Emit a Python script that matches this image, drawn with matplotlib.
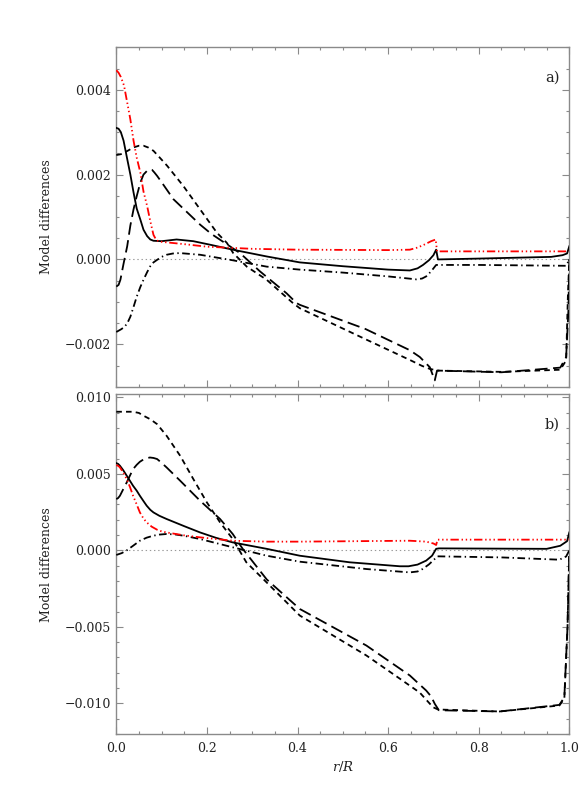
import matplotlib
matplotlib.use("Agg")
import matplotlib.pyplot as plt
from matplotlib.ticker import MultipleLocator, FuncFormatter

plt.rcParams['font.family'] = ['DejaVu Serif']
plt.rcParams['lines.scale_dashes'] = False
plt.rcParams['mathtext.fontset'] = 'dejavuserif'

# ---------------- Panel a data ----------------
a_solid_x = [0, 0.005, 0.01, 0.016, 0.024, 0.031, 0.038, 0.045, 0.053, 0.06, 0.068, 0.075, 0.082, 0.1, 0.133, 0.17, 0.21, 0.257, 0.332, 0.405, 0.5, 0.6, 0.648, 0.665, 0.677, 0.69, 0.7, 0.706, 0.71, 0.8, 0.96, 0.985, 0.995, 1.0]
a_solid_y = [0.0031, 0.00308, 0.003, 0.0028, 0.00237, 0.002, 0.00158, 0.0012, 0.00094, 0.0007, 0.00055, 0.00047, 0.00044, 0.00043, 0.00047, 0.00043, 0.00034, 0.00023, 0.00007, -0.00007, -0.00016, -0.00024, -0.00026, -0.00021, -0.00013, -0.00002, 0.0001, 0.00023, 0.0, 0.00002, 0.00006, 0.0001, 0.00014, 0.00031]

a_red_x = [0, 0.005, 0.01, 0.017, 0.024, 0.031, 0.038, 0.045, 0.053, 0.06, 0.068, 0.075, 0.082, 0.088, 0.095, 0.15, 0.2, 0.3, 0.4, 0.6, 0.648, 0.665, 0.68, 0.695, 0.705, 0.708, 0.8, 1.0]
a_red_y = [0.00446, 0.0044, 0.0043, 0.0041, 0.0037, 0.0033, 0.0028, 0.0024, 0.00205, 0.0016, 0.00126, 0.0009, 0.00058, 0.00046, 0.00042, 0.00036, 0.0003, 0.00025, 0.00023, 0.00022, 0.00023, 0.00028, 0.00035, 0.00043, 0.00047, 0.00019, 0.00019, 0.00019]

a_dashdot_x = [0, 0.01, 0.017, 0.024, 0.031, 0.038, 0.045, 0.053, 0.06, 0.068, 0.075, 0.082, 0.09, 0.1, 0.111, 0.125, 0.14, 0.185, 0.257, 0.332, 0.405, 0.5, 0.6, 0.645, 0.662, 0.675, 0.684, 0.695, 0.706, 0.8, 0.993, 1.0]
a_dashdot_y = [-0.00171, -0.00165, -0.0016, -0.00151, -0.00135, -0.00112, -0.00088, -0.00065, -0.00048, -0.0003, -0.00016, -0.00007, -0.00001, 0.00006, 0.00011, 0.00014, 0.00015, 0.00011, -0.00002, -0.00017, -0.00024, -0.00031, -0.0004, -0.00045, -0.00047, -0.00045, -0.0004, -0.00028, -0.00013, -0.00013, -0.00015, 0.0]

a_short_x = [0, 0.01, 0.025, 0.038, 0.05, 0.06, 0.07, 0.082, 0.095, 0.112, 0.148, 0.185, 0.222, 0.244, 0.258, 0.288, 0.332, 0.39, 0.405, 0.55, 0.65, 0.675, 0.692, 0.71, 0.85, 0.98, 0.993, 0.997, 1.0]
a_short_y = [0.00246, 0.00248, 0.00256, 0.00264, 0.00268, 0.00268, 0.00264, 0.00256, 0.00241, 0.00221, 0.00173, 0.00118, 0.00063, 0.00039, 0.00015, -0.00017, -0.00048, -0.00103, -0.00115, -0.00188, -0.00238, -0.00251, -0.00258, -0.00262, -0.00265, -0.0026, -0.00238, -0.0008, 0.0]

a_long_x = [0, 0.005, 0.009, 0.016, 0.024, 0.031, 0.038, 0.045, 0.053, 0.06, 0.068, 0.074, 0.079, 0.084, 0.09, 0.1, 0.126, 0.185, 0.21, 0.273, 0.317, 0.376, 0.398, 0.405, 0.55, 0.648, 0.67, 0.692, 0.703, 0.708, 0.85, 0.98, 0.993, 0.998, 1.0]
a_long_y = [-0.00064, -0.0006, -0.00048, -0.0001, 0.00031, 0.0008, 0.00118, 0.00149, 0.00181, 0.002, 0.00209, 0.00212, 0.00211, 0.00205, 0.00197, 0.00182, 0.00142, 0.00082, 0.0006, 0.00015, -0.00028, -0.0008, -0.00103, -0.00107, -0.00164, -0.00214, -0.0023, -0.00254, -0.00285, -0.00262, -0.00266, -0.00255, -0.0023, -0.0012, 0.0]

# ---------------- Panel b data ----------------
b_solid_x = [0, 0.004, 0.008, 0.015, 0.023, 0.03, 0.037, 0.045, 0.052, 0.06, 0.067, 0.075, 0.082, 0.095, 0.111, 0.15, 0.185, 0.22, 0.257, 0.332, 0.405, 0.515, 0.626, 0.645, 0.665, 0.684, 0.697, 0.706, 0.712, 0.95, 0.98, 0.995, 1.0]
b_solid_y = [0.0057, 0.00565, 0.00553, 0.00525, 0.00488, 0.00455, 0.00422, 0.0039, 0.00357, 0.00322, 0.00292, 0.00265, 0.00248, 0.00226, 0.00205, 0.00158, 0.00117, 0.00082, 0.00052, 0.0001, -0.00035, -0.00078, -0.00104, -0.00104, -0.00093, -0.00067, -0.00035, 0.0001, 0.00013, 0.0001, 0.0003, 0.0006, 0.00117]

b_red_x = [0, 0.004, 0.008, 0.015, 0.023, 0.03, 0.037, 0.045, 0.052, 0.06, 0.067, 0.078, 0.09, 0.1, 0.111, 0.15, 0.185, 0.257, 0.332, 0.405, 0.648, 0.684, 0.7, 0.706, 0.709, 0.712, 0.993, 1.0]
b_red_y = [0.00557, 0.00553, 0.00542, 0.0051, 0.00466, 0.00415, 0.00357, 0.003, 0.00248, 0.00208, 0.00183, 0.00155, 0.00135, 0.00124, 0.00117, 0.00098, 0.00085, 0.00063, 0.00057, 0.00057, 0.00063, 0.00057, 0.00045, 0.00035, 0.0007, 0.0007, 0.0007, 0.0007]

b_dashdot_x = [0, 0.012, 0.023, 0.037, 0.052, 0.067, 0.082, 0.095, 0.111, 0.13, 0.148, 0.185, 0.257, 0.332, 0.405, 0.552, 0.648, 0.665, 0.676, 0.69, 0.699, 0.709, 0.85, 0.978, 0.993, 1.0]
b_dashdot_y = [-0.0003, -0.00018, 0.0, 0.0003, 0.00063, 0.00083, 0.00096, 0.00103, 0.00107, 0.00104, 0.00096, 0.00074, 0.0002, -0.00035, -0.00074, -0.00122, -0.00144, -0.00138, -0.00122, -0.00092, -0.00067, -0.00039, -0.00046, -0.00061, -0.0004, 0.0]

b_short_x = [0, 0.037, 0.05, 0.06, 0.075, 0.09, 0.111, 0.141, 0.17, 0.2, 0.229, 0.257, 0.287, 0.332, 0.405, 0.552, 0.626, 0.67, 0.699, 0.71, 0.846, 0.978, 0.989, 0.996, 1.0]
b_short_y = [0.00906, 0.00906, 0.00898, 0.0088, 0.00857, 0.00825, 0.00749, 0.00618, 0.00466, 0.00313, 0.00183, 0.00074, -0.00078, -0.0021, -0.00426, -0.00687, -0.00839, -0.0093, -0.01025, -0.0104, -0.01053, -0.01014, -0.0097, -0.005, 0.0]

b_long_x = [0, 0.004, 0.008, 0.015, 0.023, 0.03, 0.037, 0.045, 0.052, 0.062, 0.074, 0.082, 0.09, 0.1, 0.111, 0.141, 0.185, 0.229, 0.257, 0.279, 0.332, 0.405, 0.552, 0.648, 0.67, 0.684, 0.695, 0.703, 0.712, 0.846, 0.978, 0.989, 0.996, 1.0]
b_long_y = [0.00335, 0.00342, 0.00357, 0.00398, 0.00444, 0.00488, 0.00531, 0.00559, 0.00579, 0.00598, 0.00607, 0.00604, 0.00597, 0.00572, 0.00542, 0.00455, 0.00324, 0.00205, 0.00107, 0.0001, -0.0019, -0.00383, -0.00622, -0.00818, -0.00878, -0.00916, -0.00955, -0.01003, -0.01045, -0.01053, -0.0101, -0.0096, -0.005, 0.0]

panel_labels = ["a)", "b)"]
ylims = [(-0.003, 0.005), (-0.012, 0.0102)]
ymajor = [0.002, 0.005]
yminor = [0.0005, 0.001]


def fmt3(v, pos):
    s = "%.3f" % v
    if s.startswith("-"):
        s = "\u2212" + s[1:]
    if s == "\u22120.000":
        s = "0.000"
    return s


def fmt1(v, pos):
    return "%.1f" % v


fig = plt.figure(figsize=(5.81, 8.07), dpi=100)
ax_a = fig.add_axes([0.2002, 0.5208, 0.7797, 0.4206])
ax_b = fig.add_axes([0.2002, 0.0905, 0.7797, 0.4209])

spine_col = '#8a8a8a'
text_col = '#222222'
lw = 1.3

datasets = [
    (a_solid_x, a_solid_y, a_red_x, a_red_y, a_dashdot_x, a_dashdot_y, a_short_x, a_short_y, a_long_x, a_long_y),
    (b_solid_x, b_solid_y, b_red_x, b_red_y, b_dashdot_x, b_dashdot_y, b_short_x, b_short_y, b_long_x, b_long_y),
]

for i, (ax, d) in enumerate(zip([ax_a, ax_b], datasets)):
    sx, sy, rx, ry, dx, dy, shx, shy, lx, ly = d
    ax.axhline(0, color='#999999', lw=0.8, ls=(0, (1, 2)), zorder=1)
    ax.plot(lx, ly, color='black', lw=lw, dashes=(9, 4), zorder=3)
    ax.plot(shx, shy, color='black', lw=lw, dashes=(4, 3), zorder=3)
    ax.plot(dx, dy, color='black', lw=lw, dashes=(5.5, 2.5, 1, 2.5), zorder=3)
    ax.plot(sx, sy, color='black', lw=lw, zorder=4)
    ax.plot(rx, ry, color='red', lw=lw, dashes=(6, 2, 1, 2, 1, 2, 1, 2), zorder=5)

    ax.set_xlim(0, 1)
    ax.set_ylim(*ylims[i])
    ax.xaxis.set_major_locator(MultipleLocator(0.2))
    ax.xaxis.set_minor_locator(MultipleLocator(0.05))
    ax.yaxis.set_major_locator(MultipleLocator(ymajor[i]))
    ax.yaxis.set_minor_locator(MultipleLocator(yminor[i]))
    ax.yaxis.set_major_formatter(FuncFormatter(fmt3))
    ax.xaxis.set_major_formatter(FuncFormatter(fmt1))
    ax.tick_params(which='both', direction='in', top=True, right=True,
                   color=spine_col, labelcolor=text_col, labelsize=9)
    ax.tick_params(which='major', length=5, width=0.8)
    ax.tick_params(which='minor', length=2.5, width=0.8)
    ax.tick_params(axis='y', pad=4)
    ax.tick_params(axis='x', pad=6)
    for s in ax.spines.values():
        s.set_color(spine_col)
        s.set_linewidth(1.0)
    ax.set_ylabel("Model differences", fontsize=9, color=text_col, labelpad=8)
    ax.text(0.963, 0.91, panel_labels[i], transform=ax.transAxes, fontsize=10.5,
            ha='center', va='center', color=text_col)

ax_a.tick_params(axis='x', labelbottom=False)
ax_b.set_xlabel("$r/R$", fontsize=9.5, color=text_col, labelpad=3)

fig.savefig("out.png", dpi=100)
